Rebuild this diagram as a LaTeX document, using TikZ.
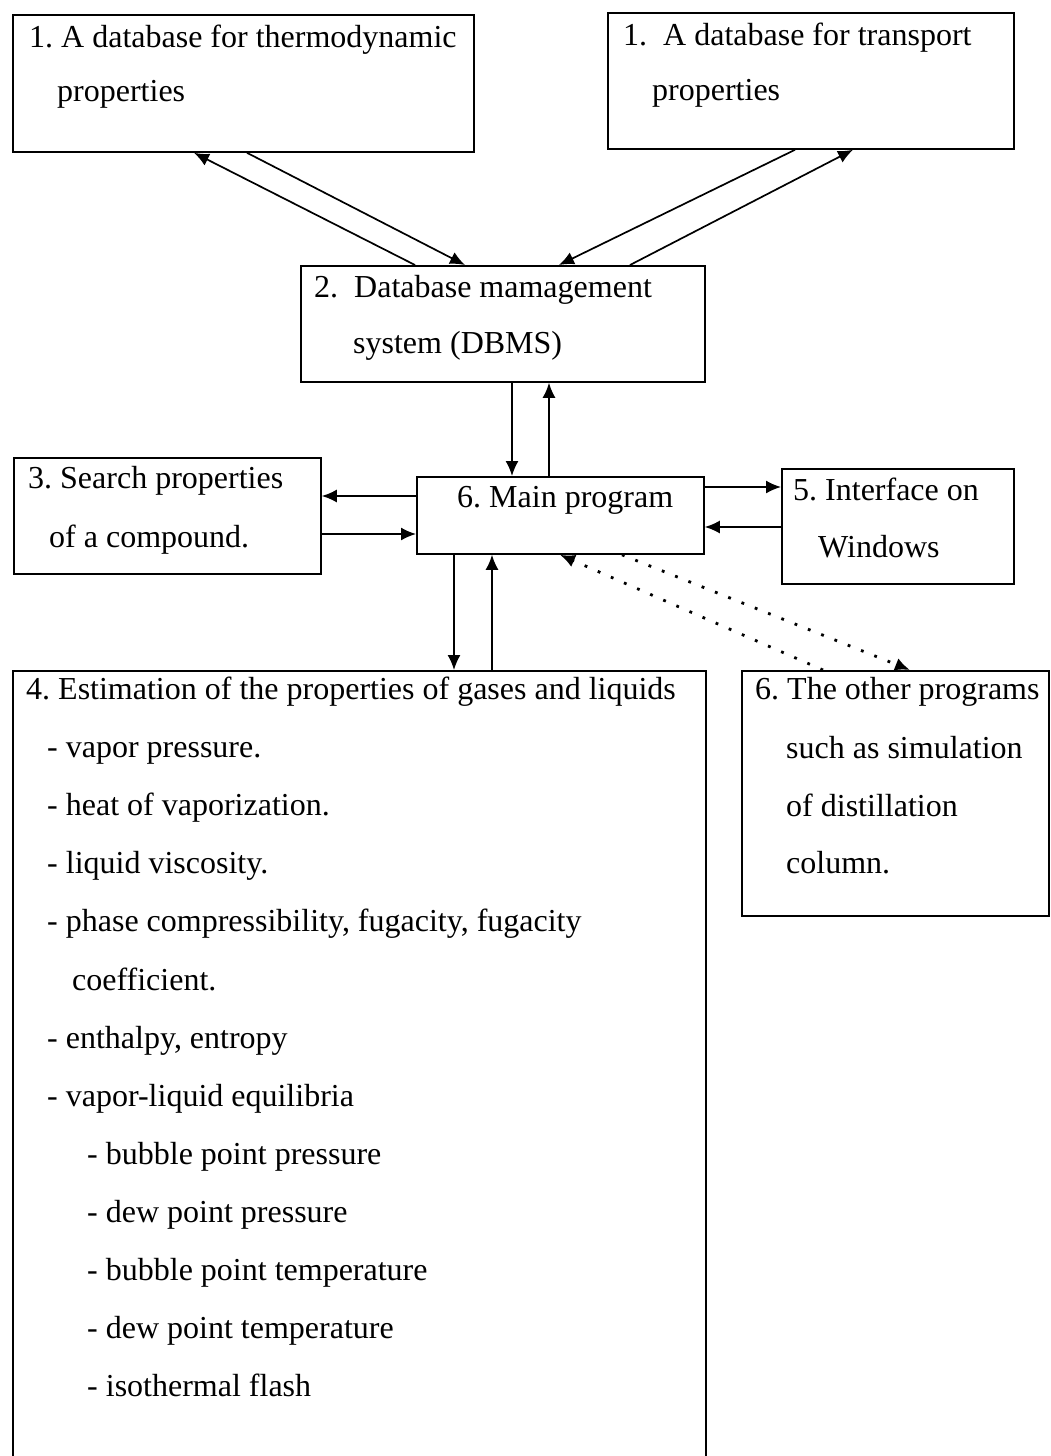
\documentclass[tikz,border=0pt]{standalone}
\usepackage{fontspec}
\setmainfont{Liberation Serif}
\usetikzlibrary{arrows.meta,calc}
\frenchspacing
\begin{document}
\begin{tikzpicture}[x=1pt,y=-1pt,
  box/.style={draw,line width=1.8pt,rectangle,inner sep=0pt,anchor=north west},
  txt/.style={inner sep=0pt,anchor=base west,font=\fontsize{32}{38}\selectfont\frenchspacing},
  arr/.style={line width=1.7pt,-{Latex[length=15pt,width=13pt]}},
  dotarr/.style={line width=2.8pt,dash pattern=on 2.8pt off 11.5pt,-{Latex[length=15pt,width=13pt]}}]
\useasboundingbox (0,0) rectangle (1051,1456);
% boxes
\node[box,minimum width=461,minimum height=137] (thermo) at (12,14) {};
\node[box,minimum width=406,minimum height=136] (transport) at (607,12) {};
\node[box,minimum width=404,minimum height=116] (dbms) at (300,265) {};
\node[box,minimum width=307,minimum height=116] (search) at (13,457) {};
\node[box,minimum width=287,minimum height=77] (main) at (416,476) {};
\node[box,minimum width=232,minimum height=115] (iface) at (781,468) {};
\node[box,minimum width=307,minimum height=245] (other) at (741,670) {};
\node[box,minimum width=693,minimum height=810] (est) at (12,670) {};
% texts
\node[txt] (thermoA) at (29,47) {1. A database for thermodynamic};
\node[txt] (thermoB) at (57,101) {properties};
\node[txt] (transA) at (623,45) {1.\ \ A database for transport};
\node[txt] (transB) at (652,100) {properties};
\node[txt] (dbmsA) at (314,297) {2.\ \ Database mamagement};
\node[txt] (dbmsB) at (353,353) {system (DBMS)};
\node[txt] (searchA) at (28,488) {3. Search properties};
\node[txt] (searchB) at (49,547) {of a compound.};
\node[txt] (mainA) at (457,507) {6. Main program};
\node[txt] (ifaceA) at (793,500) {5. Interface on};
\node[txt] (ifaceB) at (818,557) {Windows};
\node[txt] (otherA) at (755,699) {6. The other programs};
\node[txt] (otherB) at (786,758) {such as simulation};
\node[txt] (otherC) at (786,816) {of distillation};
\node[txt] (otherD) at (786,873) {column.};
\node[txt] (estA) at (26,699) {4. Estimation of the properties of gases and liquids};
\node[txt] (estB) at (47,757) {- vapor pressure.};
\node[txt] (estC) at (47,815) {- heat of vaporization.};
\node[txt] (estD) at (47,873) {- liquid viscosity.};
\node[txt] (estE) at (47,931) {- phase compressibility, fugacity, fugacity};
\node[txt] (estF) at (72,990) {coefficient.};
\node[txt] (estG) at (47,1048) {- enthalpy, entropy};
\node[txt] (estH) at (47,1106) {- vapor-liquid equilibria};
\node[txt] (estI) at (87,1164) {- bubble point pressure};
\node[txt] (estJ) at (87,1222) {- dew point pressure};
\node[txt] (estK) at (87,1280) {- bubble point temperature};
\node[txt] (estL) at (87,1338) {- dew point temperature};
\node[txt] (estM) at (87,1396) {- isothermal flash};
% connectors
\draw[arr] ($(dbms.north west)+(115,0)$) -- ($(thermo.south west)+(182,0)$);
\draw[arr] ($(thermo.south west)+(235,0)$) -- ($(dbms.north west)+(165,0)$);
\draw[arr] ($(transport.south west)+(188,0)$) -- ($(dbms.north west)+(259,0)$);
\draw[arr] ($(dbms.north west)+(330,0)$) -- ($(transport.south west)+(246,0)$);
\draw[arr] ($(dbms.south west)+(212,0)$) -- ($(main.north west)+(96,0)$);
\draw[arr] ($(main.north west)+(133,0)$) -- ($(dbms.south west)+(249,0)$);
\draw[arr] ($(main.north west)+(0,20)$) -- ($(search.north east)+(0,39)$);
\draw[arr] ($(search.north east)+(0,77)$) -- ($(main.north west)+(0,58)$);
\draw[arr] ($(main.north east)+(0,11)$) -- ($(iface.north west)+(0,19)$);
\draw[arr] ($(iface.north west)+(0,59)$) -- ($(main.north east)+(0,51)$);
\draw[arr] ($(main.south west)+(38,0)$) -- ($(est.north west)+(442,0)$);
\draw[arr] ($(est.north west)+(480,0)$) -- ($(main.south west)+(76,0)$);
\draw[dotarr] ($(other.north west)+(82,0)$) -- ($(main.south west)+(144,0)$);
\draw[dotarr] ($(main.south west)+(206,0)$) -- ($(other.north west)+(169,0)$);
\end{tikzpicture}
\end{document}
